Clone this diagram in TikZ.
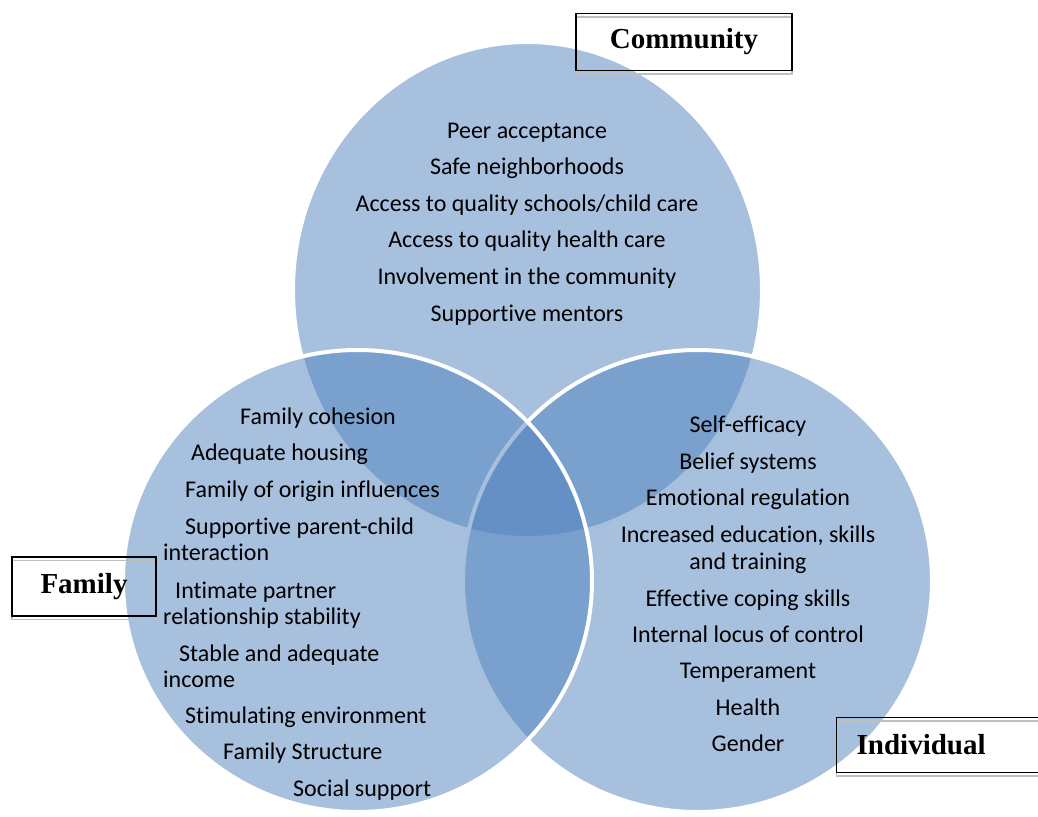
\documentclass[tikz,border=0pt]{standalone}
\usepackage{fontspec}
\setmainfont{Carlito}[Ligatures=NoCommon]
\newfontfamily\labelfont{Liberation Serif}
\usetikzlibrary{positioning}
\definecolor{venblue}{RGB}{79,129,189}
\tikzset{
    circ/.style = {draw=white, line width=4pt, fill=venblue, fill opacity=0.5},
    item/.style = {inner sep=0pt, anchor=base, font=\fontsize{24}{29}\selectfont},
    itemw/.style = {item, anchor=base west},
    tag/.style = {rectangle, draw=black, line width=1.3pt, inner sep=0pt,
                  font=\labelfont\bfseries\fontsize{29}{34}\selectfont,
                  preaction={draw=gray!50, line width=1.3pt, transform canvas={yshift=-3.5pt}}},
}

\begin{document}
\begin{tikzpicture}[x=1pt,y=-1pt]
\useasboundingbox (0,0) rectangle (1038,816);
\clip (0,0) rectangle (1038,816);
% circles
\draw[circ] (527.5,290) ellipse [x radius=234.5, y radius=248];
\draw[circ] (697.5,581) ellipse [x radius=234.5, y radius=231];
\draw[circ] (357.5,581) ellipse [x radius=234.5, y radius=231];
%
\foreach \txt [count=\i] in {Peer acceptance, Safe neighborhoods,
    Access to quality schools/child care, Access to quality health care,
    Involvement in the community, Supportive mentors}
    \node[item] (com\i) at (527,{101.4+36.6*\i}) {\txt};
%
\foreach \x/\y/\txt [count=\i] in {240/416/Family cohesion, 191/452/Adequate housing,
    185/489/Family of origin influences, 185/526/Supportive parent-child,
    163/552/interaction, 175/590/Intimate partner, 163/616/relationship stability,
    179/653/Stable and adequate, 163/679/income, 185/715/Stimulating environment,
    223/751/Family Structure, 293/788/Social support}
    \node[itemw] (fam\i) at (\x,\y+8) {\txt};
%
\foreach \y/\txt [count=\i] in {424/Self-efficacy, 461/Belief systems,
    497/Emotional regulation, 534/{Increased education, skills}, 561/and training,
    598/Effective coping skills, 634/Internal locus of control, 670/Temperament,
    707/Health, 743/Gender}
    \node[item] (ind\i) at (748,\y+8) {\txt};
%
\node[tag, minimum width=216pt, minimum height=57pt] at (684,42) (community) {Community};
\node[tag, minimum width=144pt, minimum height=59pt] at (84,586.5) (family) {Family};
\node[tag, anchor=west, minimum height=55pt, text width=210pt, inner xsep=20pt, align=left] at (836,745) (individual) {Individual};
\end{tikzpicture}
\end{document}
